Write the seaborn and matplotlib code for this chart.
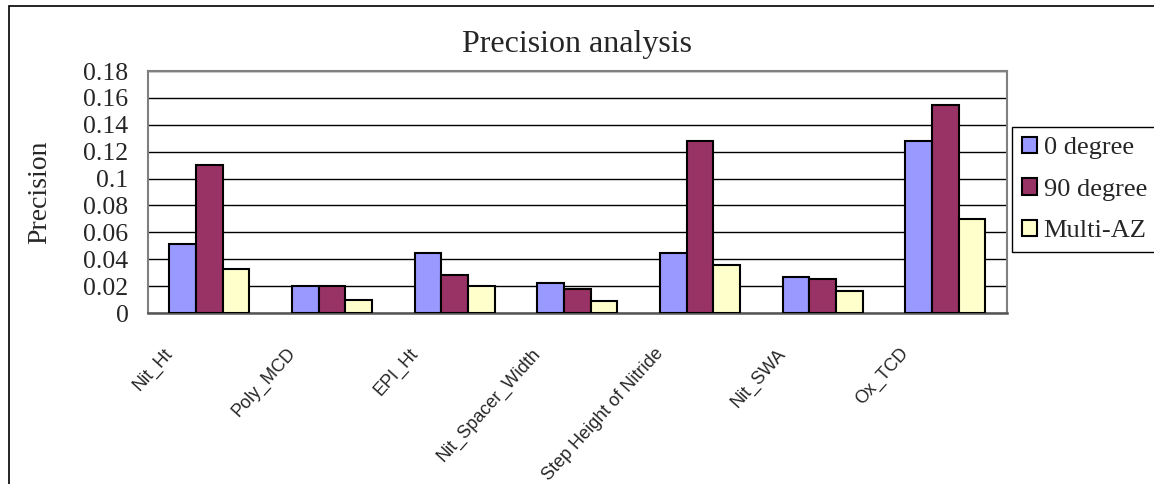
import matplotlib
matplotlib.use("Agg")
import matplotlib.pyplot as plt
import matplotlib.transforms as mtransforms
from matplotlib.patches import Rectangle
from matplotlib.ticker import FuncFormatter, FixedLocator
import numpy as np
import pandas as pd
import seaborn as sns

# Measurement items and precision per scan setting
items = ["Nit_Ht", "Poly_MCD", "EPI_Ht", "Nit_Spacer_Width",
         "Step Height of Nitride", "Nit_SWA", "Ox_TCD"]
settings = ["0 degree", "90 degree", "Multi-AZ"]
deg0 = [0.051, 0.020, 0.045, 0.022, 0.045, 0.027, 0.128]
deg90 = [0.110, 0.020, 0.028, 0.018, 0.128, 0.025, 0.155]
multi_az = [0.033, 0.010, 0.020, 0.009, 0.036, 0.016, 0.070]
colors = ["#9999FF", "#993366", "#FFFFCC"]

df = pd.DataFrame({
    "item": items * 3,
    "setting": np.repeat(settings, len(items)),
    "precision": deg0 + deg90 + multi_az,
})

sns.set_theme(style="white")
plt.rcParams["font.family"] = ["Liberation Serif", "DejaVu Serif"]

W, H = 1154, 484
fig = plt.figure(figsize=(W / 100, H / 100), dpi=100)
fig.patch.set_facecolor("white")

# plot area in pixel terms
left, right, top, bottom = 148, 1006.7, 71, 313
ax = fig.add_axes([left / W, 1 - bottom / H, (right - left) / W, (bottom - top) / H])

sns.barplot(data=df, x="item", y="precision", hue="setting", order=items,
            hue_order=settings, palette=colors, width=0.65, gap=0,
            edgecolor="black", linewidth=1.5, saturation=1, ax=ax,
            errorbar=None, zorder=3)

ax.set_xlim(-0.5, len(items) - 0.5)
ax.set_ylim(0, 0.18)
ax.set_yticks(np.arange(0, 0.181, 0.02))
ax.yaxis.set_major_formatter(FuncFormatter(lambda v, p: f"{round(v, 2):g}"))
ax.grid(axis="y", color="black", linewidth=1.0, zorder=0)
ax.set_axisbelow(True)

for side in ["top", "right", "left"]:
    ax.spines[side].set_color("#808080")
    ax.spines[side].set_linewidth(1.5)
ax.spines["bottom"].set_color("#555555")
ax.spines["bottom"].set_linewidth(1.8)

ax.tick_params(axis="y", which="major", direction="out", length=3,
               color="#808080", pad=11, labelsize=18.5)
ax.tick_params(axis="x", which="major", length=0, pad=23)
# small inward ticks between the groups
ax.xaxis.set_minor_locator(FixedLocator(np.arange(0.5, len(items) - 0.5, 1)))
ax.tick_params(axis="x", which="minor", direction="in", length=5,
               color="#555555", width=1.2)

offset = mtransforms.ScaledTranslation(-0.46, 0, fig.dpi_scale_trans)
for lab in ax.get_xticklabels():
    lab.set_rotation(48)
    lab.set_ha("right")
    lab.set_va("top")
    lab.set_rotation_mode("anchor")
    lab.set_fontfamily(["Liberation Sans", "DejaVu Sans"])
    lab.set_fontsize(13)
    lab.set_transform(lab.get_transform() + offset)

ax.set_xlabel("")
ax.set_ylabel("Precision", fontsize=20)
ax.yaxis.set_label_coords((52 - left) / (right - left), 0.5)
ax.set_title("Precision analysis", fontsize=23, pad=13.5)

handles, labels = ax.get_legend_handles_labels()
leg = ax.legend(handles, labels, loc="upper left",
                bbox_to_anchor=(1012 / W, 1 - 127 / H),
                bbox_transform=fig.transFigure, fontsize=19,
                frameon=True, fancybox=False, shadow=False,
                edgecolor="black", framealpha=1,
                handlelength=0.57, handleheight=0.57, handletextpad=0.25,
                labelspacing=0.72, borderpad=0.38, borderaxespad=0)
leg.get_frame().set_linewidth(1.0)

# chart frame
fig.patches.append(Rectangle((9 / W, -0.5), 2.0, 1 - 6 / H + 0.5,
                             transform=fig.transFigure, fill=False,
                             edgecolor="black", linewidth=1.2))

fig.savefig("out.png", dpi=100)
